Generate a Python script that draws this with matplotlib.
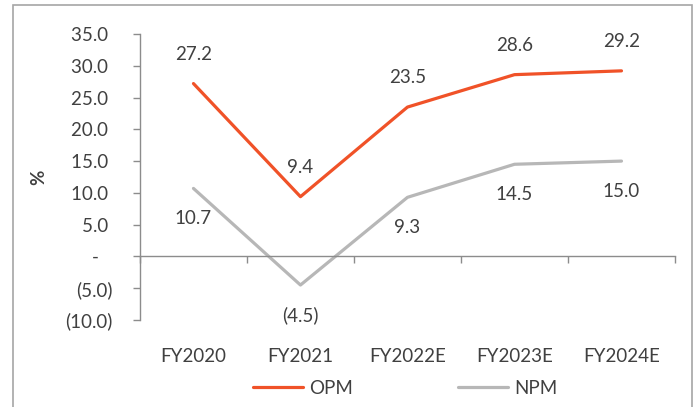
import matplotlib
matplotlib.use('Agg')
import matplotlib.pyplot as plt
from matplotlib.ticker import FuncFormatter, MultipleLocator
from matplotlib.patches import Rectangle

years = ['FY2020', 'FY2021', 'FY2022E', 'FY2023E', 'FY2024E']
opm = [27.2, 9.4, 23.5, 28.6, 29.2]
npm = [10.7, -4.5, 9.3, 14.5, 15.0]

TEXT = '#404040'
AXIS = '#8C8C8C'
ORANGE = '#F05228'
GREY = '#B7B7B7'
FS = 13.5

plt.rcParams['font.family'] = ['Lato', 'DejaVu Sans']


def acct(v, pos=None):
    # accounting style: dash for zero, brackets for negatives
    if abs(v) < 1e-9:
        return '-   '
    if v < 0:
        return f'({abs(v):.1f})'
    return f'{v:.1f} '


fig = plt.figure(figsize=(6.96, 4.07), dpi=100)
ax = fig.add_axes([0.2011, 0.2138, 0.7687, 0.7027])

x = list(range(len(years)))
ax.plot(x, opm, color=ORANGE, lw=2.3, label='OPM', solid_capstyle='round')
ax.plot(x, npm, color=GREY, lw=2.3, label='NPM', solid_capstyle='round')

for i, v in enumerate(opm):
    ax.annotate(acct(v).strip(), (i, v), xytext=(0, 21), textcoords='offset points',
                ha='center', va='center', fontsize=FS, color=TEXT)
for i, v in enumerate(npm):
    ax.annotate(acct(v).strip(), (i, v), xytext=(0, -22), textcoords='offset points',
                ha='center', va='center', fontsize=FS, color=TEXT)

ax.set_xlim(-0.5, len(years) - 0.5)
ax.set_ylim(-10, 35)
ax.yaxis.set_major_locator(MultipleLocator(5))
ax.yaxis.set_major_formatter(FuncFormatter(acct))

for s in ['top', 'right']:
    ax.spines[s].set_visible(False)
ax.spines['bottom'].set_position(('data', 0))
ax.spines['left'].set_color(AXIS)
ax.spines['bottom'].set_color(AXIS)
ax.spines['left'].set_linewidth(1.0)
ax.spines['bottom'].set_linewidth(1.0)

# category boundaries as tick marks on the zero line
ax.set_xticks([i - 0.5 for i in range(len(years) + 1)])
ax.set_xticklabels([])
ax.tick_params(axis='x', direction='out', length=5, color=AXIS, width=1.0)
ax.tick_params(axis='y', direction='out', length=5, color=AXIS, width=1.0,
               labelsize=FS, labelcolor=TEXT, pad=14.5)

# category names below the plot area
sec = ax.secondary_xaxis(0)
sec.set_xticks(x, labels=years)
sec.spines['bottom'].set_visible(False)
sec.tick_params(length=0, pad=20, labelsize=FS, labelcolor=TEXT)

ax.text(-0.19, 0.5, '%', transform=ax.transAxes, rotation=90, ha='center',
        va='center', fontsize=FS, fontweight='bold', color=TEXT)

fig.legend(loc='center', bbox_to_anchor=(405 / 696, 1 - 388 / 407), ncol=2,
           frameon=False, fontsize=FS, labelcolor=TEXT, handlelength=2.7,
           handletextpad=0.3, columnspacing=5.6)

fig.add_artist(Rectangle((13 / 696, -0.05), 679 / 696, 1.05 - 5 / 407,
                         transform=fig.transFigure, fill=False,
                         edgecolor='#A6A6A6', lw=1.2))

fig.savefig('out.png', dpi=100)
